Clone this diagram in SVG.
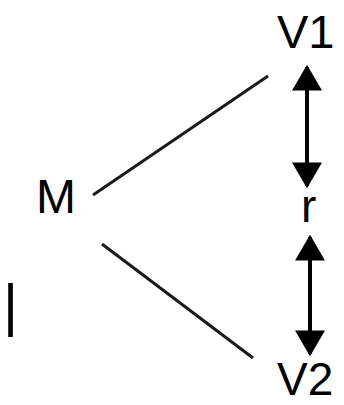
<svg xmlns="http://www.w3.org/2000/svg" width="344" height="405" viewBox="0 0 344 405">
<style>
text{font-family:"Liberation Sans",Arial,sans-serif;font-size:46px;fill:#000}
.ln{stroke:#1a1a1a;stroke-width:3;fill:none}
.ar{stroke:#000;stroke-width:4;fill:none}
</style>
<defs>
<marker id="ah" markerUnits="userSpaceOnUse" markerWidth="30" markerHeight="30" refX="22" refY="14" orient="auto-start-reverse" viewBox="0 0 24 28">
<path d="M0,0 L24,14 L0,28 Z" fill="#000"/>
</marker>
</defs>
<rect width="344" height="405" fill="#fff"/>
<g id="V1"><text x="277" y="48" style="font-size:47px">V1</text></g>
<g id="M"><text x="36" y="213" style="font-size:48px">M</text></g>
<g id="r"><text x="301" y="222">r</text></g>
<g id="V2"><text x="277" y="395" style="font-size:46px">V2</text></g>
<g id="I"><text x="3" y="325" style="font-size:58px">|</text></g>
<g id="connectors">
<line class="ln" x1="93" y1="195" x2="268" y2="76"/>
<line class="ln" x1="102" y1="244" x2="253" y2="358"/>
<line class="ar" x1="307" y1="67" x2="307" y2="186" marker-start="url(#ah)" marker-end="url(#ah)"/>
<line class="ar" x1="310" y1="237" x2="310" y2="354" marker-start="url(#ah)" marker-end="url(#ah)"/>
</g>
</svg>
